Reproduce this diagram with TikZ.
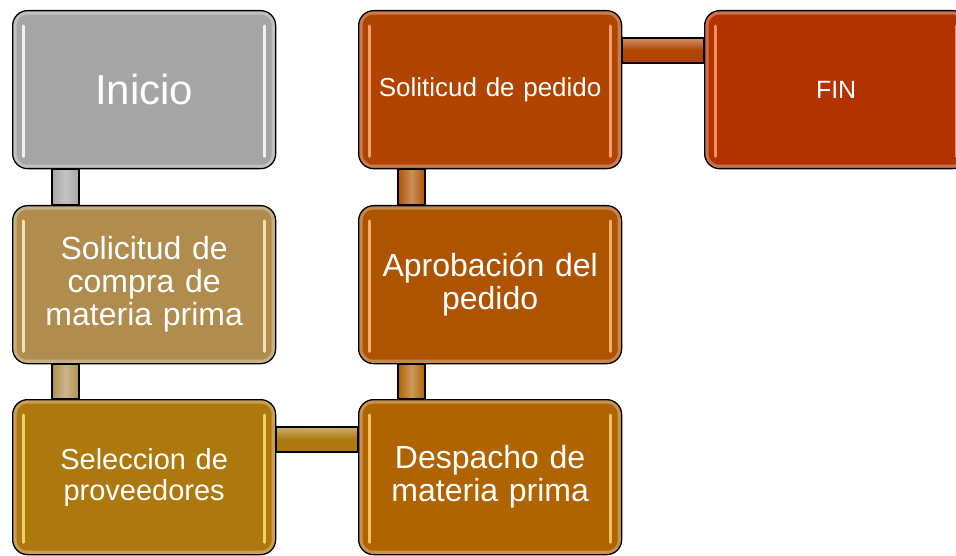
\documentclass[tikz,border=0pt]{standalone}
\usepackage{fontspec}
\setmainfont{Liberation Sans}
\usetikzlibrary{calc}
\definecolor{cIni}{HTML}{A5A5A5}
\definecolor{cCom}{HTML}{B08D4F}
\definecolor{cSel}{HTML}{AD780E}
\definecolor{cDes}{HTML}{AF6400}
\definecolor{cApr}{HTML}{AE5400}
\definecolor{cPed}{HTML}{B04400}
\definecolor{cFin}{HTML}{B23300}
\definecolor{hIni}{HTML}{FFFFFF}
\definecolor{hCom}{HTML}{FFF0C0}
\definecolor{hSel}{HTML}{FFE070}
\definecolor{hDes}{HTML}{FFD070}
\definecolor{hApr}{HTML}{FFC080}
\definecolor{hPed}{HTML}{FFB080}
\definecolor{hFin}{HTML}{FFA070}
\tikzset{
  box/.style={draw=black, line width=1.3pt, rounded corners=15pt,
    minimum width=263pt, minimum height=158pt, inner sep=0pt,
    text width=250pt, align=center, text=white, anchor=north west,
    font=\fontsize{32}{33}\selectfont,
    path picture={\draw[white, opacity=.3, line width=8pt, rounded corners=14pt]
      (path picture bounding box.north west) rectangle (path picture bounding box.south east);}},
  hl/.style={line width=3pt, line cap=round, opacity=.85},
  con/.style={draw=black, line width=1.3pt},
}
\begin{document}
\begin{tikzpicture}[x=1pt,y=-1pt]
\clip (0,0) rectangle (956,556);
\node[box, fill=cIni, font=\fontsize{42}{46}\selectfont] (ini) at (12,10) {Inicio};
\node[box, fill=cCom] (compra) at (12,205) {Solicitud de\\compra de\\materia prima};
\node[box, fill=cSel, minimum height=155pt, font=\fontsize{29}{31}\selectfont] (sel) at (12,399) {Seleccion de\\proveedores};
\node[box, fill=cDes, minimum height=155pt] (desp) at (358,399) {Despacho de\\materia prima};
\node[box, fill=cApr] (apro) at (358,205) {Aprobación del\\pedido};
\node[box, fill=cPed, font=\fontsize{26}{29}\selectfont] (ped) at (358,10) {Soliticud de pedido};
\node[box, fill=cFin, font=\fontsize{25}{28}\selectfont] (fin) at (704,10) {FIN};
% highlights
\foreach \n/\h in {ini/hIni, compra/hCom, sel/hSel, desp/hDes, apro/hApr, ped/hPed, fin/hFin}{
  \draw[hl, \h] ($(\n.north west)+(11,16)$) -- ($(\n.south west)+(11,-13)$);
  \draw[hl, \h] ($(\n.north east)+(-12,16)$) -- ($(\n.south east)+(-12,-13)$);
}
% vertical connectors (upper/lower/colour)
\foreach \a/\b/\c in {ini/compra/cIni, compra/sel/cCom, ped/apro/cApr, apro/desp/cDes}{
  \draw[con, left color=\c, right color=\c, middle color=\c!65!white]
    ($(\a.south west)+(40,0)$) rectangle ($(\b.north west)+(67,0)$);
}
% horizontal connectors (left/right/colour)
\foreach \a/\b/\c in {sel/desp/cSel, ped/fin/cPed}{
  \draw[con, top color=\c!60!white, bottom color=\c, middle color=\c]
    ($(\a.north east)+(0,28)$) rectangle ($(\b.north west)+(0,53)$);
}
\end{tikzpicture}
\end{document}
